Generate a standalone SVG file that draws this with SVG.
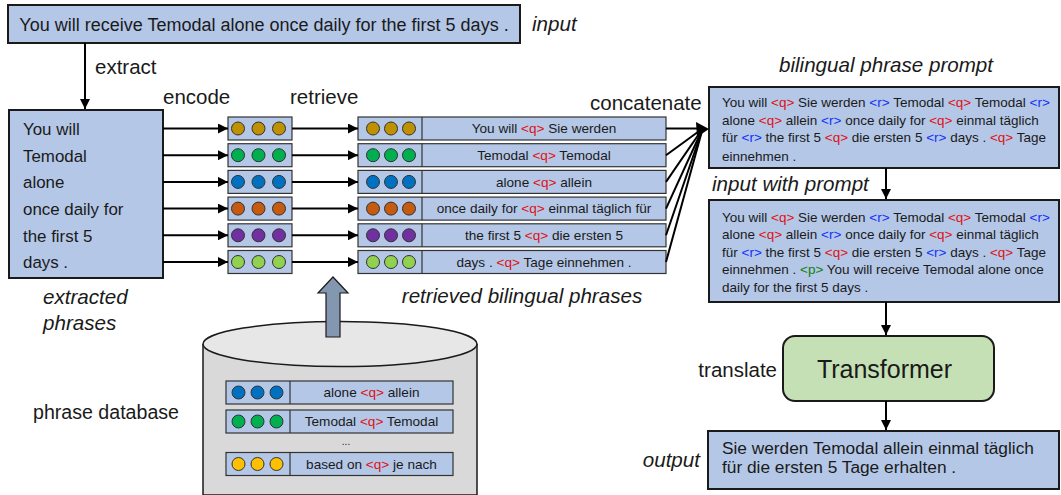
<svg xmlns="http://www.w3.org/2000/svg" width="1061" height="495" viewBox="0 0 1061 495">
<defs>
<marker id="ah" viewBox="0 0 10 10" refX="10" refY="5" markerWidth="10" markerHeight="10" markerUnits="userSpaceOnUse" orient="auto">
<path d="M0,0 L10,5 L0,10 z" fill="#000"/>
</marker>
<style>
text{font-family:"Liberation Sans",Arial,sans-serif;fill:#1a1a1a}
.box{fill:#b4c7e7;stroke:#1a1a1a;stroke-width:2}
.sbox{fill:#b4c7e7;stroke:#333;stroke-width:1.2}
.lbl{font-size:20.5px}
.it{font-size:20.6px;font-style:italic}
.ph{font-size:16.9px}
.rt{font-size:13.6px}
.pt{font-size:13.5px}
.q{fill:#e01010}
.r{fill:#1030ff}
.p{fill:#108010}
.ln{stroke:#000;stroke-width:2;fill:none}
.c{stroke:#333;stroke-width:1}
</style>
</defs>

<g id="input">
<rect class="box" x="8" y="5" width="512" height="38"/>
<text x="264" y="30.5" text-anchor="middle" font-size="18">You will receive Temodal alone once daily for the first 5 days .</text>
<text class="it" x="532" y="31">input</text>
</g>

<g id="extracted">
<rect class="box" x="9" y="110" width="154" height="168"/>
<text class="ph" x="23" y="135">You will</text>
<text class="ph" x="23" y="161.7">Temodal</text>
<text class="ph" x="23" y="188">alone</text>
<text class="ph" x="23" y="215">once daily for</text>
<text class="ph" x="23" y="241.7">the first 5</text>
<text class="ph" x="23" y="268">days .</text>
<text class="it" x="43" y="304">extracted</text>
<text class="it" x="43" y="330">phrases</text>
</g>

<g id="labels">
<text class="lbl" x="95" y="74">extract</text>
<text class="lbl" x="163" y="104">encode</text>
<text class="lbl" x="290" y="104">retrieve</text>
<text class="lbl" x="590" y="110">concatenate</text>
<text class="it" x="522" y="303" text-anchor="middle">retrieved bilingual phrases</text>
<text x="33" y="419" font-size="19.6">phrase database</text>
</g>

<g id="encoded">
<rect class="sbox" x="228" y="117" width="64" height="23"/>
<circle class="c" cx="238" cy="128.5" r="6.5" fill="#bf9000"/><circle class="c" cx="258.5" cy="128.5" r="6.5" fill="#bf9000"/><circle class="c" cx="279" cy="128.5" r="6.5" fill="#bf9000"/>
<rect class="sbox" x="228" y="143.7" width="64" height="23"/>
<circle class="c" cx="238" cy="155.2" r="6.5" fill="#00b050"/><circle class="c" cx="258.5" cy="155.2" r="6.5" fill="#00b050"/><circle class="c" cx="279" cy="155.2" r="6.5" fill="#00b050"/>
<rect class="sbox" x="228" y="170.4" width="64" height="23"/>
<circle class="c" cx="238" cy="181.9" r="6.5" fill="#0070c0"/><circle class="c" cx="258.5" cy="181.9" r="6.5" fill="#0070c0"/><circle class="c" cx="279" cy="181.9" r="6.5" fill="#0070c0"/>
<rect class="sbox" x="228" y="197.1" width="64" height="23"/>
<circle class="c" cx="238" cy="208.6" r="6.5" fill="#c55a11"/><circle class="c" cx="258.5" cy="208.6" r="6.5" fill="#c55a11"/><circle class="c" cx="279" cy="208.6" r="6.5" fill="#c55a11"/>
<rect class="sbox" x="228" y="223.8" width="64" height="23"/>
<circle class="c" cx="238" cy="235.3" r="6.5" fill="#7030a0"/><circle class="c" cx="258.5" cy="235.3" r="6.5" fill="#7030a0"/><circle class="c" cx="279" cy="235.3" r="6.5" fill="#7030a0"/>
<rect class="sbox" x="228" y="250.5" width="64" height="23"/>
<circle class="c" cx="238" cy="262" r="6.5" fill="#92d050"/><circle class="c" cx="258.5" cy="262" r="6.5" fill="#92d050"/><circle class="c" cx="279" cy="262" r="6.5" fill="#92d050"/>
</g>

<g id="retrieved">
<rect class="sbox" x="358" y="117" width="308" height="23"/><line x1="422" y1="117" x2="422" y2="140" stroke="#333" stroke-width="1.2"/>
<circle class="c" cx="373" cy="128.5" r="6.5" fill="#bf9000"/><circle class="c" cx="391" cy="128.5" r="6.5" fill="#bf9000"/><circle class="c" cx="409" cy="128.5" r="6.5" fill="#bf9000"/>
<text class="rt" x="544" y="133.2" text-anchor="middle">You will <tspan class="q">&lt;q&gt;</tspan> Sie werden</text>
<rect class="sbox" x="358" y="143.7" width="308" height="23"/><line x1="422" y1="143.7" x2="422" y2="166.7" stroke="#333" stroke-width="1.2"/>
<circle class="c" cx="373" cy="155.2" r="6.5" fill="#00b050"/><circle class="c" cx="391" cy="155.2" r="6.5" fill="#00b050"/><circle class="c" cx="409" cy="155.2" r="6.5" fill="#00b050"/>
<text class="rt" x="544" y="159.9" text-anchor="middle">Temodal <tspan class="q">&lt;q&gt;</tspan> Temodal</text>
<rect class="sbox" x="358" y="170.4" width="308" height="23"/><line x1="422" y1="170.4" x2="422" y2="193.4" stroke="#333" stroke-width="1.2"/>
<circle class="c" cx="373" cy="181.9" r="6.5" fill="#0070c0"/><circle class="c" cx="391" cy="181.9" r="6.5" fill="#0070c0"/><circle class="c" cx="409" cy="181.9" r="6.5" fill="#0070c0"/>
<text class="rt" x="544" y="186.6" text-anchor="middle">alone <tspan class="q">&lt;q&gt;</tspan> allein</text>
<rect class="sbox" x="358" y="197.1" width="308" height="23"/><line x1="422" y1="197.1" x2="422" y2="220.1" stroke="#333" stroke-width="1.2"/>
<circle class="c" cx="373" cy="208.6" r="6.5" fill="#c55a11"/><circle class="c" cx="391" cy="208.6" r="6.5" fill="#c55a11"/><circle class="c" cx="409" cy="208.6" r="6.5" fill="#c55a11"/>
<text class="rt" x="544" y="213.3" text-anchor="middle">once daily for <tspan class="q">&lt;q&gt;</tspan> einmal täglich für</text>
<rect class="sbox" x="358" y="223.8" width="308" height="23"/><line x1="422" y1="223.8" x2="422" y2="246.8" stroke="#333" stroke-width="1.2"/>
<circle class="c" cx="373" cy="235.3" r="6.5" fill="#7030a0"/><circle class="c" cx="391" cy="235.3" r="6.5" fill="#7030a0"/><circle class="c" cx="409" cy="235.3" r="6.5" fill="#7030a0"/>
<text class="rt" x="544" y="240" text-anchor="middle">the first 5 <tspan class="q">&lt;q&gt;</tspan> die ersten 5</text>
<rect class="sbox" x="358" y="250.5" width="308" height="23"/><line x1="422" y1="250.5" x2="422" y2="273.5" stroke="#333" stroke-width="1.2"/>
<circle class="c" cx="373" cy="262" r="6.5" fill="#92d050"/><circle class="c" cx="391" cy="262" r="6.5" fill="#92d050"/><circle class="c" cx="409" cy="262" r="6.5" fill="#92d050"/>
<text class="rt" x="544" y="266.7" text-anchor="middle">days . <tspan class="q">&lt;q&gt;</tspan> Tage einnehmen .</text>
</g>

<g id="database">
<path d="M203,344 L203,495 L477,495 L477,344" fill="#d9d9d9" stroke="#1a1a1a" stroke-width="1.5"/>
<ellipse cx="340" cy="344" rx="137" ry="22.5" fill="#e7e7e7" stroke="#1a1a1a" stroke-width="1.5"/>
<rect class="sbox" x="226" y="381" width="227" height="23"/><line x1="290" y1="381" x2="290" y2="404" stroke="#333" stroke-width="1.2"/>
<circle class="c" cx="238.5" cy="392.5" r="6.5" fill="#0070c0"/><circle class="c" cx="257.5" cy="392.5" r="6.5" fill="#0070c0"/><circle class="c" cx="276.5" cy="392.5" r="6.5" fill="#0070c0"/>
<text class="rt" x="371.5" y="397.2" text-anchor="middle">alone <tspan class="q">&lt;q&gt;</tspan> allein</text>
<rect class="sbox" x="226" y="410" width="227" height="23"/><line x1="290" y1="410" x2="290" y2="433" stroke="#333" stroke-width="1.2"/>
<circle class="c" cx="238.5" cy="421.5" r="6.5" fill="#00b050"/><circle class="c" cx="257.5" cy="421.5" r="6.5" fill="#00b050"/><circle class="c" cx="276.5" cy="421.5" r="6.5" fill="#00b050"/>
<text class="rt" x="371.5" y="426.2" text-anchor="middle">Temodal <tspan class="q">&lt;q&gt;</tspan> Temodal</text>
<text x="346" y="445" text-anchor="middle" font-size="10">...</text>
<rect class="sbox" x="226" y="452.5" width="227" height="23"/><line x1="290" y1="452.5" x2="290" y2="475.5" stroke="#333" stroke-width="1.2"/>
<circle class="c" cx="238.5" cy="464" r="6.5" fill="#ffc000"/><circle class="c" cx="257.5" cy="464" r="6.5" fill="#ffc000"/><circle class="c" cx="276.5" cy="464" r="6.5" fill="#ffc000"/>
<text class="rt" x="371.5" y="468.7" text-anchor="middle">based on <tspan class="q">&lt;q&gt;</tspan> je nach</text>
</g>

<g id="prompt">
<rect class="box" x="709" y="87" width="350" height="81"/>
<text class="pt" x="722" y="106.5">You will <tspan class="q">&lt;q&gt;</tspan> Sie werden <tspan class="r">&lt;r&gt;</tspan> Temodal <tspan class="q">&lt;q&gt;</tspan> Temodal <tspan class="r">&lt;r&gt;</tspan></text>
<text class="pt" x="722" y="124.5">alone <tspan class="q">&lt;q&gt;</tspan> allein <tspan class="r">&lt;r&gt;</tspan> once daily for <tspan class="q">&lt;q&gt;</tspan> einmal täglich</text>
<text class="pt" x="722" y="142.3">für <tspan class="r">&lt;r&gt;</tspan> the first 5 <tspan class="q">&lt;q&gt;</tspan> die ersten 5 <tspan class="r">&lt;r&gt;</tspan> days . <tspan class="q">&lt;q&gt;</tspan> Tage</text>
<text class="pt" x="722" y="160.5">einnehmen .</text>
<text class="it" x="886" y="71.5" text-anchor="middle">bilingual phrase prompt</text>
</g>

<g id="inputprompt">
<rect class="box" x="709" y="200" width="350" height="102"/>
<text class="pt" x="722" y="221.5">You will <tspan class="q">&lt;q&gt;</tspan> Sie werden <tspan class="r">&lt;r&gt;</tspan> Temodal <tspan class="q">&lt;q&gt;</tspan> Temodal <tspan class="r">&lt;r&gt;</tspan></text>
<text class="pt" x="722" y="239">alone <tspan class="q">&lt;q&gt;</tspan> allein <tspan class="r">&lt;r&gt;</tspan> once daily for <tspan class="q">&lt;q&gt;</tspan> einmal täglich</text>
<text class="pt" x="722" y="256.5">für <tspan class="r">&lt;r&gt;</tspan> the first 5 <tspan class="q">&lt;q&gt;</tspan> die ersten 5 <tspan class="r">&lt;r&gt;</tspan> days . <tspan class="q">&lt;q&gt;</tspan> Tage</text>
<text class="pt" x="722" y="274">einnehmen . <tspan class="p">&lt;p&gt;</tspan> You will receive Temodal alone once</text>
<text class="pt" x="722" y="292">daily for the first 5 days .</text>
<text class="it" x="712" y="190.5">input with prompt</text>
</g>

<g id="transformer">
<rect x="783" y="336" width="211" height="65" rx="12" ry="12" fill="#c5e0b4" stroke="#1a1a1a" stroke-width="2"/>
<text x="884.5" y="378" text-anchor="middle" font-size="25">Transformer</text>
<text class="lbl" x="777" y="377" text-anchor="end">translate</text>
</g>

<g id="output">
<rect class="box" x="708" y="431" width="351" height="58"/>
<text x="722" y="454" font-size="17.3">Sie werden Temodal allein einmal täglich</text>
<text x="722" y="473" font-size="17.3">für die ersten 5 Tage erhalten .</text>
<text class="it" x="700" y="467" text-anchor="end">output</text>
</g>

<g id="connectors">
<line class="ln" x1="85" y1="43" x2="85" y2="109" marker-end="url(#ah)"/>
<line class="ln" x1="163" y1="128.5" x2="228" y2="128.5" marker-end="url(#ah)"/>
<line class="ln" x1="163" y1="155.2" x2="228" y2="155.2" marker-end="url(#ah)"/>
<line class="ln" x1="163" y1="181.9" x2="228" y2="181.9" marker-end="url(#ah)"/>
<line class="ln" x1="163" y1="208.6" x2="228" y2="208.6" marker-end="url(#ah)"/>
<line class="ln" x1="163" y1="235.3" x2="228" y2="235.3" marker-end="url(#ah)"/>
<line class="ln" x1="163" y1="262" x2="228" y2="262" marker-end="url(#ah)"/>
<line class="ln" x1="292" y1="128.5" x2="358" y2="128.5" marker-end="url(#ah)"/>
<line class="ln" x1="292" y1="155.2" x2="358" y2="155.2" marker-end="url(#ah)"/>
<line class="ln" x1="292" y1="181.9" x2="358" y2="181.9" marker-end="url(#ah)"/>
<line class="ln" x1="292" y1="208.6" x2="358" y2="208.6" marker-end="url(#ah)"/>
<line class="ln" x1="292" y1="235.3" x2="358" y2="235.3" marker-end="url(#ah)"/>
<line class="ln" x1="292" y1="262" x2="358" y2="262" marker-end="url(#ah)"/>
<line class="ln" x1="666" y1="128.5" x2="702" y2="128.5"/>
<line class="ln" x1="666" y1="155.2" x2="702" y2="129"/>
<line class="ln" x1="666" y1="181.9" x2="702" y2="129.5"/>
<line class="ln" x1="666" y1="208.6" x2="702" y2="130"/>
<line class="ln" x1="666" y1="235.3" x2="702" y2="130.5"/>
<line class="ln" x1="666" y1="262" x2="702" y2="131"/>
<path d="M696,122 L709,129 L697,137 z" fill="#000"/>
<line class="ln" x1="886" y1="168" x2="886" y2="199" marker-end="url(#ah)"/>
<line class="ln" x1="886" y1="302" x2="886" y2="335" marker-end="url(#ah)"/>
<line class="ln" x1="886" y1="401" x2="886" y2="430" marker-end="url(#ah)"/>
<path d="M326,337 L326,293 L318,293 L333,277 L348,293 L340,293 L340,337 z" fill="#8497b0" stroke="#1a1a1a" stroke-width="1.2"/>
</g>
</svg>
